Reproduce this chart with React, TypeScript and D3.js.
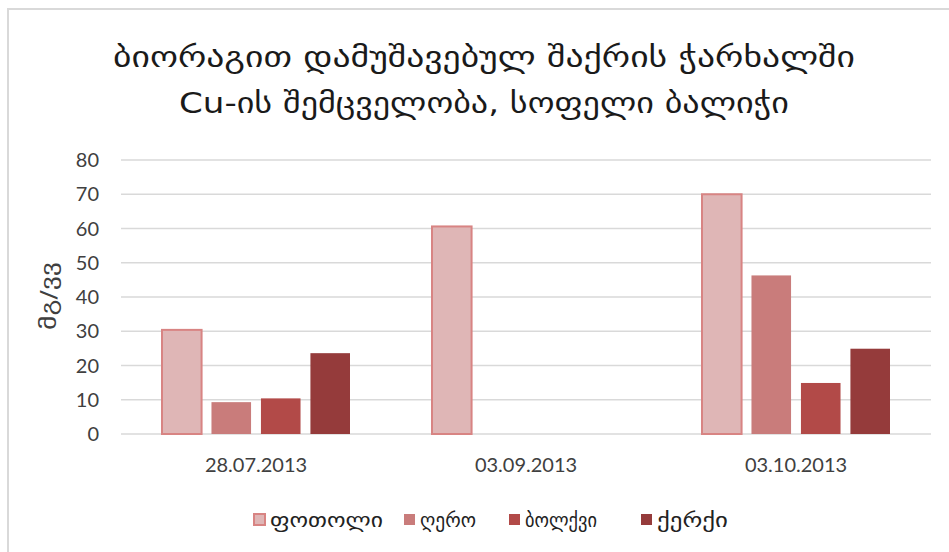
import * as d3 from 'd3';
import React from 'react';

// dates of sampling
const categories = ['28.07.2013', '03.09.2013', '03.10.2013'];
// plant parts (legend)
const seriesNames = ['ფოთოლი', 'ღერო', 'ბოლქვი', 'ქერქი'];
// Cu content, mg/kg
const leaf = [30.4, 60.6, 70];
const stem = [9.3, 0, 46.3];
const bulb = [10.4, 0, 14.9];
const bark = [23.6, 0, 24.9];
const yTicks = [0, 10, 20, 30, 40, 50, 60, 70, 80];

const titleLines = [
  'ბიორაგით დამუშავებულ შაქრის ჭარხალში',
  'Cu-ის შემცველობა, სოფელი ბალიჭი',
];
const yTitle = 'მგ/ვვ';

const fills = ['#dfb6b6', '#c97c7b', '#b24a48', '#953b3b'];
const strokes = ['#d88483', 'none', 'none', 'none'];

const W = 949;
const H = 552;
const margin = { left: 121, right: 18, top: 160, bottom: 118 };
const font = "Lato, 'DejaVu Sans', sans-serif";
const geo = "'DejaVu Sans', sans-serif";

// measured widths of the georgian strings (the original font is wider)
const titleWidths = [742, 610];
const legendX = [253, 403, 508, 640];
const legendWidths = [113, 56, 72, 71];

export default function App() {
  const values = [leaf, stem, bulb, bark];
  const x0 = d3
    .scaleBand()
    .domain(categories)
    .range([margin.left, W - margin.right]);
  const x1 = d3
    .scaleBand()
    .domain(seriesNames)
    .range([41, x0.bandwidth() - 41])
    .paddingInner(0.2);
  const y = d3.scaleLinear().domain([0, 80]).range([H - margin.bottom, margin.top]);

  return (
    <svg
      width={W}
      height={H}
      style={{ position: 'absolute', left: 0, top: 0, background: '#fff' }}
      fontFamily={font}
    >
      <rect x={8} y={9} width={W} height={H} fill="#fff" stroke="#d9d9d9" strokeWidth={2} />
      {titleLines.map((t, i) => (
        <text
          key={i}
          x={484}
          y={67 + i * 46}
          textAnchor="middle"
          fontSize={29}
          fill="#1a1a1a"
          fontFamily={geo}
          textLength={titleWidths[i]}
          lengthAdjust="spacingAndGlyphs"
        >
          {t}
        </text>
      ))}
      {yTicks.map((v) => (
        <g key={v}>
          <line
            x1={margin.left}
            x2={W - margin.right}
            y1={y(v)}
            y2={y(v)}
            stroke="#d9d9d9"
            strokeWidth={1.5}
          />
          <text x={99} y={y(v)} dy="0.36em" textAnchor="end" fontSize={20} fill="#404040">
            {v}
          </text>
        </g>
      ))}
      <text
        transform={`translate(56,296) rotate(-90)`}
        textAnchor="middle"
        fontSize={22}
        fill="#404040"
        fontFamily={geo}
        textLength={68}
        lengthAdjust="spacingAndGlyphs"
      >
        {yTitle}
      </text>
      {categories.map((c, ci) => (
        <g key={c} transform={`translate(${x0(c)},0)`}>
          {seriesNames.map((s, si) => {
            const v = values[si][ci];
            if (!v) return null;
            return (
              <rect
                key={s}
                x={x1(s)}
                y={y(v)}
                width={x1.bandwidth()}
                height={y(0) - y(v)}
                fill={fills[si]}
                stroke={strokes[si]}
                strokeWidth={2}
              />
            );
          })}
          <text
            x={x0.bandwidth() / 2}
            y={472}
            textAnchor="middle"
            fontSize={20}
            fill="#404040"
          >
            {c}
          </text>
        </g>
      ))}
      {seriesNames.map((s, si) => (
        <g key={s} transform={`translate(${legendX[si]},513)`}>
          <rect
            x={1}
            y={1}
            width={11}
            height={11}
            fill={fills[si]}
            stroke={strokes[si]}
            strokeWidth={2}
          />
          <text
            x={17}
            y={7}
            dy="0.38em"
            fontSize={19}
            fill="#222"
            fontFamily={geo}
            textLength={legendWidths[si]}
            lengthAdjust="spacingAndGlyphs"
          >
            {s}
          </text>
        </g>
      ))}
    </svg>
  );
}
